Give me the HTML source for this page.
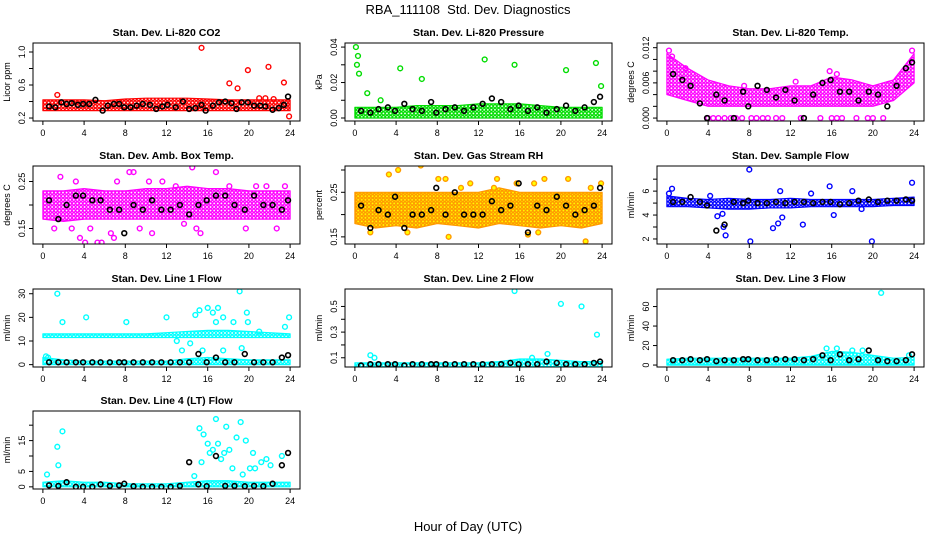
<!DOCTYPE html>
<html><head><meta charset="utf-8"><style>
html,body{margin:0;padding:0;background:#fff;}
svg{display:block;font-family:"Liberation Sans",Arial,sans-serif;}
</style></head><body>
<svg id="chart" width="936" height="540" viewBox="0 0 936 540" xmlns="http://www.w3.org/2000/svg">
<defs id="defs"></defs>
<text x="468" y="14" font-size="13" text-anchor="middle">RBA_111108&#160; Std. Dev. Diagnostics</text>
<text x="468" y="531" font-size="13" text-anchor="middle">Hour of Day (UTC)</text>
</svg>
<script>
const bandHours=[0,2,4,6,8,10,12,14,16,18,20,22,24];
const xTicks=[0,4,8,12,16,20,24];
const blkHours=[0.6,1.5,2.3,3.2,3.9,4.8,5.6,6.5,7.4,7.9,8.8,9.7,10.6,11.5,12.4,13.3,14.2,15.1,15.9,16.8,17.7,18.6,19.6,20.5,21.4,22.3,23.2,23.8];

// Panel 1 CO2
const co2Lo=[0.29,0.29,0.29,0.29,0.29,0.29,0.29,0.29,0.29,0.29,0.29,0.29,0.29];
const co2Hi=[0.42,0.42,0.42,0.41,0.43,0.44,0.44,0.44,0.43,0.42,0.42,0.42,0.42];
const co2OutH=[1.4,15.4,18.1,18.9,19.9,21.9,23.4,23.9,21,21.6,22.4];
const co2OutV=[0.48,1.05,0.62,0.56,0.78,0.82,0.63,0.22,0.44,0.44,0.43];
const co2BlkH=[0.6,1.2,1.8,2.3,2.8,3.4,3.9,4.5,5.1,5.8,6.3,6.9,7.4,7.9,8.5,9.1,9.7,10.4,11,11.6,12.1,12.9,13.6,14.2,14.8,15.4,15.8,16.5,17.1,17.7,18.3,18.8,19.3,19.9,20.5,21.1,21.6,22.3,22.9,23.4,23.8];
const co2BlkV=[0.34,0.33,0.39,0.37,0.38,0.36,0.37,0.37,0.42,0.29,0.35,0.37,0.37,0.33,0.33,0.35,0.37,0.36,0.31,0.34,0.36,0.33,0.4,0.31,0.32,0.36,0.29,0.35,0.39,0.40,0.38,0.31,0.39,0.39,0.35,0.35,0.34,0.30,0.32,0.36,0.46];
const co2Ticks=[0.2,0.4,0.6,0.8,1.0];
const co2Labels=['0.2','','0.6','','1.0'];

// Panel 2 Pressure
const presLo=[0,0,0,0,0,0,0,0,0,0,0,0,0];
const presHi=[0.006,0.006,0.006,0.007,0.007,0.007,0.008,0.008,0.008,0.007,0.006,0.006,0.006];
const presOutH=[0.1,0.3,0.2,0.4,1.2,4.4,6.5,12.6,15.5,20.5,23.4,23.9,2.5];
const presOutV=[0.04,0.035,0.03,0.025,0.014,0.028,0.022,0.033,0.03,0.027,0.031,0.018,0.01];
const presBlkV=[0.004,0.003,0.005,0.006,0.004,0.008,0.005,0.004,0.009,0.003,0.005,0.006,0.004,0.006,0.008,0.011,0.009,0.005,0.007,0.004,0.006,0.003,0.005,0.007,0.004,0.006,0.009,0.012];
const presTicks=[0,0.01,0.02,0.03,0.04];
const presLabels=['0.00','','0.02','','0.04'];

// Panel 3 Li-820 Temp
const tempLo=[0.004,0.003,0.002,0.002,0.002,0.002,0.002,0.002,0.002,0.002,0.002,0.003,0.006];
const tempHi=[0.011,0.0085,0.0065,0.0055,0.005,0.005,0.0055,0.0055,0.007,0.0065,0.0055,0.0065,0.011];
const tempOutH=[4,4.5,5,5.6,6.2,6.7,7.3,8.2,8.7,9.3,9.8,10.6,11.2,13,14.9,16,16.5,17,18.4,19.5,20,21,0.2,0.5,1.8,15.8,16.5,23.8,12.5,7.5];
const tempOutV=[0,0,0,0,0,0,0,0,0,0,0,0,0,0,0,0,0,0,0,0,0,0,0.0115,0.0105,0.0085,0.008,0.0075,0.0115,0.0062,0.0055];
const tempBlkV=[0.0075,0.0065,0.0055,0.0025,0,0.004,0.003,0,0.0045,0.002,0.0055,0.0048,0.0035,0.0048,0.003,0,0.004,0.006,0.0065,0.0045,0.0045,0.003,0.0045,0.004,0.002,0.0055,0.0085,0.0095];
const tempTicks=[0,0.002,0.004,0.006,0.008,0.01,0.012];
const tempLabels=['0.000','','','0.006','','','0.012'];

// Panel 4 Amb Box Temp
const ambLo=[0.17,0.165,0.17,0.17,0.17,0.17,0.17,0.17,0.17,0.17,0.17,0.17,0.17];
const ambHi=[0.23,0.23,0.235,0.23,0.23,0.235,0.235,0.24,0.235,0.235,0.23,0.23,0.23];
const ambOutH=[1.7,2.8,3.6,4.1,4.6,5.3,5.7,6.6,7.2,8.4,8.8,10.3,10.6,11.6,12.9,14.5,14.9,15.3,16.8,18.1,19.7,20.7,21.7,22.7,23.5,1.1,3.2,6.9,9.4,13.7];
const ambOutV=[0.26,0.15,0.13,0.12,0.15,0.12,0.12,0.14,0.25,0.27,0.27,0.25,0.14,0.25,0.24,0.28,0.15,0.14,0.27,0.24,0.15,0.24,0.24,0.15,0.24,0.15,0.25,0.13,0.15,0.16];
const ambBlkV=[0.21,0.17,0.2,0.22,0.22,0.21,0.21,0.19,0.19,0.14,0.2,0.19,0.21,0.19,0.19,0.2,0.18,0.2,0.21,0.22,0.22,0.2,0.19,0.22,0.2,0.2,0.19,0.21];
const ambTicks=[0.15,0.2,0.25];
const ambLabels=['0.15','','0.25'];

// Panel 5 Gas Stream RH
const rhLo=[0.18,0.17,0.175,0.17,0.18,0.175,0.17,0.18,0.175,0.17,0.175,0.17,0.18];
const rhHi=[0.25,0.25,0.25,0.25,0.25,0.25,0.25,0.26,0.25,0.25,0.25,0.25,0.25];
const rhOutH=[3.3,4.2,6.4,8.1,8.8,11.2,13.8,15.7,17.4,18.4,20.7,22.4,23.9,1.5,5.1,9.1,10.3,13.5,16.8,17.8,22.9];
const rhOutV=[0.29,0.3,0.31,0.28,0.28,0.27,0.28,0.27,0.27,0.28,0.28,0.14,0.27,0.16,0.16,0.15,0.26,0.26,0.155,0.16,0.26];
const rhBlkV=[0.22,0.17,0.21,0.2,0.24,0.17,0.2,0.2,0.21,0.26,0.2,0.25,0.2,0.2,0.2,0.23,0.21,0.22,0.27,0.16,0.22,0.21,0.24,0.22,0.2,0.21,0.22,0.26];
const rhTicks=[0.15,0.2,0.25,0.3];
const rhLabels=['0.15','','0.25',''];

// Panel 6 Sample Flow
const sfLo=[4.7,4.7,4.6,4.5,4.5,4.6,4.6,4.7,4.7,4.7,4.7,4.8,4.8];
const sfHi=[5.6,5.4,5.3,5.4,5.3,5.3,5.4,5.3,5.3,5.3,5.3,5.4,5.5];
const sfOutH=[0.2,0.5,4.2,4.9,5.4,5.5,5.7,8,8.1,10.3,10.8,11,11.2,13.2,14,15.8,16.2,18,18.9,19.9,23.8];
const sfOutV=[5.8,6.2,5.6,3.9,4.1,3,2.3,7.8,1.8,2.9,3.3,6,3.8,3.2,5.8,6.4,4,6,4.5,1.8,6.7];
const sfBlkV=[5.1,5.1,5.5,5.1,4.8,2.7,3.2,5.1,5,5.2,5,5,5.1,5,5.1,5.1,5,5.1,5.1,4.9,5,5.2,5.3,5.1,5.2,5.2,5.3,5.2];
const sfTicks=[2,3,4,5,6,7];
const sfLabels=['2','','4','','6',''];

// Panel 7 Line 1 Flow
const l1Lo=[11.5,11.5,11.5,11.5,11.5,11.5,11.5,11.5,11.5,11.5,11.5,11.5,11.5];
const l1Hi=[13,13,13,13,13,13,13.5,14,14.5,14.5,14,13.5,13];
const l1bLo=[0,0,0,0,0,0,0,0,0,0,0,0,0];
const l1bHi=[3,2,1.5,1.5,1.5,1.5,1.5,2.5,3,2.5,2,2,2];
const l1OutH=[1.4,1.9,4.2,8.1,12,13,14.3,14.8,15.2,16,16.5,16.8,17,17.5,18.5,19.1,19.8,19.9,21,23.5,23.9,0.3,0.5,13.5,15.5,17.5,19.3];
const l1OutV=[30,18,20,18,20,10,9,21,23,24,22,18,24,20,18,31,22,18,14,16,20,3.5,3,6,6,6,7];
const l1BlkV=[1,1,1,1,1,1,1,1,1,1,1,1,1,1,1,1,1,4.5,1,3,1,1,4.5,1,1,1,3,4];
const l1Ticks=[0,10,20,30];
const l1Labels=['0','10','20','30'];

// Panel 8 Line 2 Flow
const l2Lo=[0.03,0.03,0.03,0.03,0.03,0.03,0.03,0.03,0.03,0.03,0.03,0.03,0.03];
const l2Hi=[0.06,0.06,0.06,0.06,0.06,0.06,0.06,0.07,0.09,0.09,0.08,0.07,0.07];
const l2OutH=[1.5,1.9,15.5,20,22,23.5,18.7,17.2];
const l2OutV=[0.12,0.1,0.62,0.52,0.5,0.28,0.13,0.1];
const l2BlkV=[0.04,0.05,0.05,0.05,0.05,0.04,0.05,0.05,0.05,0.05,0.05,0.05,0.05,0.05,0.05,0.05,0.05,0.06,0.05,0.05,0.05,0.07,0.06,0.05,0.05,0.05,0.06,0.07];
const l2Ticks=[0.1,0.2,0.3,0.4,0.5];
const l2Labels=['0.1','','0.3','','0.5'];

// Panel 9 Line 3 Flow
const l3Lo=[0,0,0,0,0,0,0,0,0,0,0,0,0];
const l3Hi=[6,7,7,7,7,7,7,9,14,13,10,7,8];
const l3OutH=[20.8,15.5,16.5,18,19,23.5];
const l3OutV=[74,17,17,15,15,10];
const l3BlkV=[5,5,6,5,6,4,5,5,6,6,5,5,6,6,6,5,6,10,5,11,5,6,15,5,4,4,5,11];
const l3Ticks=[0,20,40,60];
const l3Labels=['0','20','40','60'];

// Panel 10 Line 4 (LT) Flow
const l4Lo=[0,0,0,0,0,0,0,0,0,0,0,0,0];
const l4Hi=[1.5,2,1.5,1.5,1,1,1,1.5,2,2,1.5,1.5,1.5];
const l4OutH=[0.4,1.4,1.5,1.9,14.7,15.2,15.6,16,16.5,16.8,17,17.3,17.6,18.1,18.4,18.8,19.2,19.4,19.7,20.1,20.6,21.2,21.7,22.1,23.2,15.4,16.2,17.8,20.4];
const l4OutV=[4,13,7,18,3.5,19,17,14,12,22,14,9,11,12,6,16,21,4,15,6,6,8,9,7,10,8,11,19.5,11];
const l4BlkV=[0.5,0.3,1.5,0,0,0,0.8,0.3,0.5,1,0.2,0,0,0,0,0.3,8,0.8,0.2,10,0.3,0.3,0.2,0.3,0.2,1,7,11];
const l4Ticks=[0,5,10,15,20];
const l4Labels=['0','5','','15',''];

const panels=[
 {key:'co2',title:'Stan. Dev. Li-820 CO2',ylab:'Licor ppm',col:0,row:0,ylim:[0.164,1.109],ticks:co2Ticks,labels:co2Labels,color:'#ff0000',bands:[[co2Lo,co2Hi]],outH:co2OutH,outV:co2OutV,blkH:co2BlkH,blkV:co2BlkV},
 {key:'pres',title:'Stan. Dev. Li-820 Pressure',ylab:'kPa',col:1,row:0,ylim:[-0.0017,0.0423],ticks:presTicks,labels:presLabels,color:'#00dd00',bands:[[presLo,presHi]],outH:presOutH,outV:presOutV,blkH:blkHours,blkV:presBlkV},
 {key:'temp',title:'Stan. Dev. Li-820 Temp.',ylab:'degrees C',col:2,row:0,ylim:[-0.0005,0.0128],ticks:tempTicks,labels:tempLabels,color:'#ff00ff',bands:[[tempLo,tempHi]],outH:tempOutH,outV:tempOutV,blkH:blkHours,blkV:tempBlkV},
 {key:'amb',title:'Stan. Dev. Amb. Box Temp.',ylab:'degrees C',col:0,row:1,ylim:[0.117,0.283],ticks:ambTicks,labels:ambLabels,color:'#ff00ff',bands:[[ambLo,ambHi]],outH:ambOutH,outV:ambOutV,blkH:blkHours,blkV:ambBlkV},
 {key:'rh',title:'Stan. Dev. Gas Stream RH',ylab:'percent',col:1,row:1,ylim:[0.134,0.309],ticks:rhTicks,labels:rhLabels,color:'#ff9900',fill2:'#ffff00',bands:[[rhLo,rhHi]],outH:rhOutH,outV:rhOutV,blkH:blkHours,blkV:rhBlkV},
 {key:'sf',title:'Stan. Dev. Sample Flow',ylab:'ml/min',col:2,row:1,ylim:[1.58,8.1],ticks:sfTicks,labels:sfLabels,color:'#0000ff',bands:[[sfLo,sfHi]],outH:sfOutH,outV:sfOutV,blkH:blkHours,blkV:sfBlkV},
 {key:'l1',title:'Stan. Dev. Line 1 Flow',ylab:'ml/min',col:0,row:2,ylim:[-1,32],ticks:l1Ticks,labels:l1Labels,color:'#00ffff',bands:[[l1Lo,l1Hi],[l1bLo,l1bHi]],outH:l1OutH,outV:l1OutV,blkH:blkHours,blkV:l1BlkV},
 {key:'l2',title:'Stan. Dev. Line 2 Flow',ylab:'ml/min',col:1,row:2,ylim:[0.028,0.636],ticks:l2Ticks,labels:l2Labels,color:'#00ffff',bands:[[l2Lo,l2Hi]],outH:l2OutH,outV:l2OutV,blkH:blkHours,blkV:l2BlkV},
 {key:'l3',title:'Stan. Dev. Line 3 Flow',ylab:'ml/min',col:2,row:2,ylim:[-2,78],ticks:l3Ticks,labels:l3Labels,color:'#00ffff',bands:[[l3Lo,l3Hi]],outH:l3OutH,outV:l3OutV,blkH:blkHours,blkV:l3BlkV},
 {key:'l4',title:'Stan. Dev. Line 4 (LT) Flow',ylab:'ml/min',col:0,row:3,ylim:[-0.7,24.6],ticks:l4Ticks,labels:l4Labels,color:'#00ffff',bands:[[l4Lo,l4Hi]],outH:l4OutH,outV:l4OutV,blkH:blkHours,blkV:l4BlkV}
];

const NS='http://www.w3.org/2000/svg';
const svg=document.getElementById('chart');
const defs=document.getElementById('defs');
function mk(tag,attrs,parent){const e=document.createElementNS(NS,tag);for(const k in attrs)e.setAttribute(k,attrs[k]);(parent||svg).appendChild(e);return e;}
const colX=[33,345,657], rowY=[43,166,289,411], W=267, H=78;

panels.forEach(p=>{
  const x0=colX[p.col], y0=rowY[p.row];
  const xs=h=>x0+(h+0.96)*(W/25.92);
  const ys=v=>y0+H-(v-p.ylim[0])/(p.ylim[1]-p.ylim[0])*H;
  const g=mk('g',{});
  
  
  const pat=mk('pattern',{id:'pat-'+p.key,width:3.6,height:3.6,patternUnits:'userSpaceOnUse'},defs);
  if(p.fill2) mk('rect',{width:3.6,height:3.6,fill:p.fill2},pat);
  mk('circle',{cx:1.8,cy:1.8,r:1.5,fill:'none',stroke:p.color,'stroke-width':1.2},pat);
  const clip=mk('clipPath',{id:'clip-'+p.key},defs);
  mk('rect',{x:x0,y:y0,width:W,height:H},clip);
  const t=mk('text',{x:x0+W/2,y:y0-7,'font-size':10.5,'font-weight':'bold','text-anchor':'middle'},g);
  t.textContent=p.title;
  
  
  const pg=mk('g',{'clip-path':'url(#clip-'+p.key+')'},g);
  p.bands.forEach((b,bi)=>{
    let d='';
    bandHours.forEach((h,i)=>{d+=(i?'L':'M')+xs(h).toFixed(1)+','+ys(b[1][i]).toFixed(1);});
    for(let i=bandHours.length-1;i>=0;i--) d+='L'+xs(bandHours[i]).toFixed(1)+','+ys(b[0][i]).toFixed(1);
    const pa=mk('path',{d:d+'Z',fill:'url(#pat-'+p.key+')',stroke:p.color,'stroke-width':1.2,'stroke-linejoin':'round'},pg);
    
    
  });
  p.outH.forEach((h,i)=>{
    const c=mk('circle',{cx:xs(h),cy:ys(p.outV[i]),r:2.4,fill:p.fill2||'none',stroke:p.color,'stroke-width':1.4},pg);
    
    
  });
  p.blkH.forEach((h,i)=>{
    const c=mk('circle',{cx:xs(h),cy:ys(p.blkV[i]),r:2.4,fill:'none',stroke:'#000','stroke-width':1.6},pg);
    
    
  });
  const box=mk('rect',{x:x0,y:y0,width:W,height:H,fill:'none',stroke:'#000','stroke-width':1},g);
  
  
  const xa=mk('g',{},g);
  
  
  mk('line',{x1:xs(0),x2:xs(24),y1:y0+H,y2:y0+H,stroke:'#000'},xa);
  xTicks.forEach(v=>{
    mk('line',{x1:xs(v),x2:xs(v),y1:y0+H,y2:y0+H+4,stroke:'#000'},xa);
    const tl=mk('text',{x:xs(v),y:y0+H+15,'font-size':9,'text-anchor':'middle'},xa);
    tl.textContent=v;
  });
  const ya=mk('g',{},g);
  
  
  p.ticks.forEach((v,i)=>{
    const y=ys(v);
    mk('line',{x1:x0-4,x2:x0,y1:y,y2:y,stroke:'#000'},ya);
    if(p.labels[i]){
      const tl=mk('text',{x:x0-8,y:y,'font-size':9,'text-anchor':'middle',transform:'rotate(-90 '+(x0-8)+' '+y+')'},ya);
      tl.textContent=p.labels[i];
    }
  });
  mk('line',{x1:x0,x2:x0,y1:ys(p.ticks[0]),y2:ys(p.ticks[p.ticks.length-1]),stroke:'#000'},ya);
  const yl=mk('text',{x:x0-23,y:y0+H/2,'font-size':9,'text-anchor':'middle',transform:'rotate(-90 '+(x0-23)+' '+(y0+H/2)+')'},ya);
  yl.textContent=p.ylab;
  
  
});
</script>
</body></html>
